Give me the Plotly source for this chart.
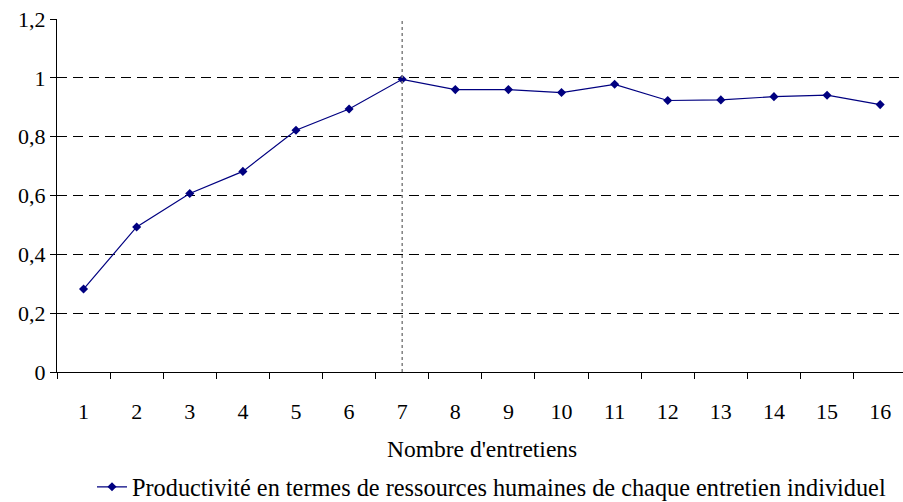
import plotly.graph_objects as go

categories = list(range(1, 17))
productivite = [0.282, 0.493, 0.607, 0.682, 0.822, 0.894, 0.995, 0.960,
                0.960, 0.950, 0.978, 0.923, 0.925, 0.936, 0.941, 0.909]
y_ticks = [0, 0.2, 0.4, 0.6, 0.8, 1.0, 1.2]
highlight_x = 7
series_name = "Productivité en termes de ressources humaines de chaque entretien individuel"
x_title = "Nombre d'entretiens"

FONT = "Liberation Serif"
FS_TICK = 22
FS_TEXT = 23.5
FS_LEGEND = 24.3

fig = go.Figure()
fig.add_trace(go.Scatter(
    x=categories, y=productivite, mode="lines+markers", name=series_name,
    line=dict(color="#000080", width=1.2),
    marker=dict(symbol="diamond", size=7, color="#000080"),
    showlegend=True,
))

fig.add_shape(type="line", xref="x", yref="paper", x0=highlight_x, x1=highlight_x,
              y0=0, y1=1, line=dict(color="#808080", width=1.5, dash="3px,3px"))

fig.add_annotation(text=x_title, xref="paper", yref="paper", x=(482 - 57) / 846,
                   y=(372 - 449) / 353, showarrow=False,
                   font=dict(family=FONT, size=FS_TEXT, color="black"),
                   xanchor="center", yanchor="middle")

fig.update_layout(
    width=903, height=502,
    margin=dict(l=57, r=0, t=19, b=130, autoexpand=False),
    paper_bgcolor="white", plot_bgcolor="white",
    separators=", ",
    font=dict(family=FONT, size=FS_TICK, color="black"),
    showlegend=True,
    legend=dict(orientation="h", x=(92 - 57) / 846, y=(372 - 487) / 353,
                xanchor="left", yanchor="middle", itemwidth=30,
                font=dict(family=FONT, size=FS_LEGEND, color="black"),
                bgcolor="rgba(0,0,0,0)"),
    xaxis=dict(range=[0.5, 16.43], tickvals=categories, ticktext=[str(c) for c in categories],
               showgrid=False, zeroline=False, showline=True, linecolor="black", linewidth=1,
               ticks="", ticklabelstandoff=20, automargin=False,
               tickfont=dict(family=FONT, size=FS_TICK, color="black"),
               minor=dict(tick0=0.5, dtick=1, ticks="outside", ticklen=6, tickcolor="black",
                          showgrid=False)),
    yaxis=dict(range=[0, 1.2], tickvals=y_ticks, showgrid=True, gridcolor="black",
               griddash="10px,6px", gridwidth=1, zeroline=False, showline=True,
               linecolor="black", linewidth=1, ticks="outside", ticklen=6,
               tickcolor="black", automargin=False,
               tickfont=dict(family=FONT, size=FS_TICK, color="black")),
)

fig.write_html("out.html", config={"displayModeBar": False},
               post_script="document.body.style.margin='0px';")
